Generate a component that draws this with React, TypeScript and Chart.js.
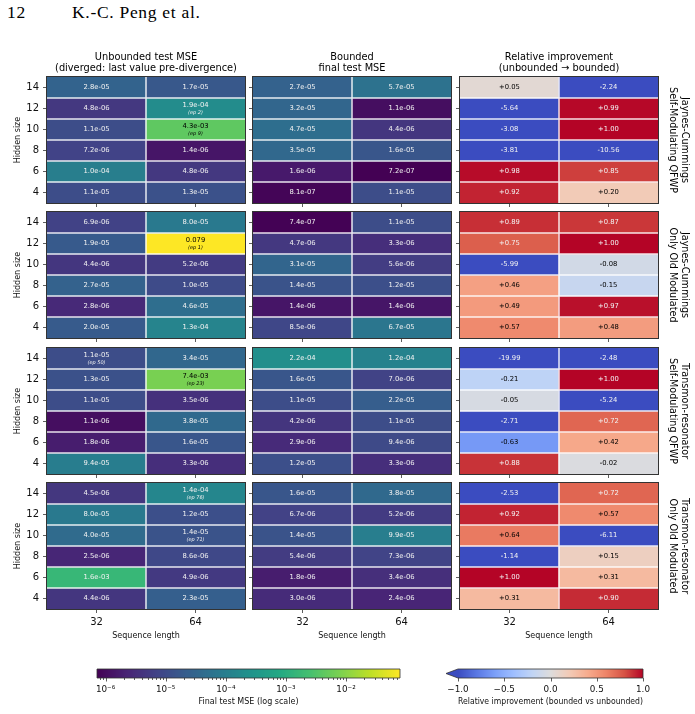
import { useEffect, useRef } from 'react';
import { Chart, registerables } from 'chart.js';
import type { ChartConfiguration, Plugin } from 'chart.js';

Chart.register(...registerables);

// ---------------------------------------------------------------------------
// Data: rows are hidden sizes 14 → 4, inner arrays are [seq 32, seq 64]
// ---------------------------------------------------------------------------
const hiddenSizes = [14, 12, 10, 8, 6, 4];
const seqLengths = ['32', '64'];

const columnTitles = [
  ['Unbounded test MSE', '(diverged: last value pre-divergence)'],
  ['Bounded', 'final test MSE'],
  ['Relative improvement', '(unbounded \u2192 bounded)'],
];

// Jaynes-Cummings, self-modulating QFWP
const jcSelfUnbounded = [
  [2.8e-5, 4.8e-6, 1.1e-5, 7.2e-6, 1.0e-4, 1.1e-5],
  [1.7e-5, 1.9e-4, 4.3e-3, 1.4e-6, 4.8e-6, 1.3e-5],
];
const jcSelfBounded = [
  [2.7e-5, 3.2e-5, 4.7e-5, 3.5e-5, 1.6e-6, 8.1e-7],
  [5.7e-5, 1.1e-6, 4.4e-6, 1.6e-5, 7.2e-7, 1.1e-5],
];
const jcSelfRelative = [
  [0.05, -5.64, -3.08, -3.81, 0.98, 0.92],
  [-2.24, 0.99, 1.0, -10.56, 0.85, 0.2],
];
const jcSelfDivergedEpoch = [
  [null, null, null, null, null, null],
  [null, 2, 9, null, null, null],
];

// Jaynes-Cummings, only old modulated
const jcOldUnbounded = [
  [6.9e-6, 1.9e-5, 4.4e-6, 2.7e-5, 2.8e-6, 2.0e-5],
  [8.0e-5, 0.079, 5.2e-6, 1.0e-5, 4.6e-5, 1.3e-4],
];
const jcOldBounded = [
  [7.4e-7, 4.7e-6, 3.1e-5, 1.4e-5, 1.4e-6, 8.5e-6],
  [1.1e-5, 3.3e-6, 5.6e-6, 1.2e-5, 1.4e-6, 6.7e-5],
];
const jcOldRelative = [
  [0.89, 0.75, -5.99, 0.46, 0.49, 0.57],
  [0.87, 1.0, -0.08, -0.15, 0.97, 0.48],
];
const jcOldDivergedEpoch = [
  [null, null, null, null, null, null],
  [null, 1, null, null, null, null],
];

// Transmon-resonator, self-modulating QFWP
const trSelfUnbounded = [
  [1.1e-5, 1.3e-5, 1.1e-5, 1.1e-6, 1.8e-6, 9.4e-5],
  [3.4e-5, 7.4e-3, 3.5e-6, 3.8e-5, 1.6e-5, 3.3e-6],
];
const trSelfBounded = [
  [2.2e-4, 1.6e-5, 1.1e-5, 4.2e-6, 2.9e-6, 1.2e-5],
  [1.2e-4, 7.0e-6, 2.2e-5, 1.1e-5, 9.4e-6, 3.3e-6],
];
const trSelfRelative = [
  [-19.99, -0.21, -0.05, -2.71, -0.63, 0.88],
  [-2.48, 1.0, -5.24, 0.72, 0.42, -0.02],
];
const trSelfDivergedEpoch = [
  [50, null, null, null, null, null],
  [null, 23, null, null, null, null],
];

// Transmon-resonator, only old modulated
const trOldUnbounded = [
  [4.5e-6, 8.0e-5, 4.0e-5, 2.5e-6, 1.6e-3, 4.4e-6],
  [1.4e-4, 1.2e-5, 1.4e-5, 8.6e-6, 4.9e-6, 2.3e-5],
];
const trOldBounded = [
  [1.6e-5, 6.7e-6, 1.4e-5, 5.4e-6, 1.8e-6, 3.0e-6],
  [3.8e-5, 5.2e-6, 9.9e-5, 7.3e-6, 3.4e-6, 2.4e-6],
];
const trOldRelative = [
  [-2.53, 0.92, 0.64, -1.14, 1.0, 0.31],
  [0.72, 0.57, -6.11, 0.15, 0.31, 0.9],
];
const trOldDivergedEpoch = [
  [null, null, null, null, null, null],
  [76, null, 71, null, null, null],
];

const mseBarTicks = [1e-6, 1e-5, 1e-4, 1e-3, 1e-2];
const relBarTicks = [-1, -0.5, 0, 0.5, 1];

// ---------------------------------------------------------------------------
// Colour maps
// ---------------------------------------------------------------------------
const viridisStops = ['#440154', '#482475', '#414487', '#355f8d', '#2a788e', '#21918c', '#22a884', '#44bf70', '#7ad151', '#bddf26', '#fde725'];
const coolwarmStops = ['#3b4cc0', '#5977e3', '#7b9ff9', '#9ebeff', '#c0d4f5', '#dddcdc', '#f2cbb7', '#f7ac8e', '#ee8468', '#d65244', '#b40426'];

function hexRgb(h: string): number[] {
  return [1, 3, 5].map((i) => parseInt(h.slice(i, i + 2), 16));
}
function sampleMap(stops: string[], t: number): string {
  const tt = Math.min(1, Math.max(0, t));
  const p = tt * (stops.length - 1);
  const i = Math.min(Math.floor(p), stops.length - 2);
  const f = p - i;
  const a = hexRgb(stops[i]);
  const b = hexRgb(stops[i + 1]);
  const c = a.map((v, k) => Math.round(v + (b[k] - v) * f));
  return `rgb(${c[0]},${c[1]},${c[2]})`;
}

const allMse = [jcSelfUnbounded, jcSelfBounded, jcOldUnbounded, jcOldBounded, trSelfUnbounded, trSelfBounded, trOldUnbounded, trOldBounded].flat(2);
const mseMin = Math.min(...allMse);
const mseMax = Math.max(...allMse);
const mseT = (v: number) => (Math.log10(v) - Math.log10(mseMin)) / (Math.log10(mseMax) - Math.log10(mseMin));
const relT = (v: number) => (v + 1) / 2;
const mseColor = (v: number) => sampleMap(viridisStops, mseT(v));
const relColor = (v: number) => sampleMap(coolwarmStops, relT(v));

function fmtMse(v: number): string {
  if (v >= 0.01) return v.toFixed(3);
  const [m, e] = v.toExponential(1).split('e');
  const sign = e[0] === '-' ? '-' : '+';
  return `${m}e${sign}${e.replace(/[+-]/, '').padStart(2, '0')}`;
}
function fmtRel(v: number): string {
  return (v >= 0 ? '+' : '') + v.toFixed(2);
}
const SUP: Record<string, string> = { '-': '\u207b', '0': '\u2070', '1': '\u00b9', '2': '\u00b2', '3': '\u00b3', '4': '\u2074', '5': '\u2075', '6': '\u2076', '7': '\u2077', '8': '\u2078', '9': '\u2079' };
const powLabel = (v: number) => '10' + String(Math.round(Math.log10(v))).split('').map((ch) => SUP[ch]).join('');
const minusLabel = (v: number) => v.toFixed(1).replace('-', '\u2212');

// ---------------------------------------------------------------------------
// Layout
// ---------------------------------------------------------------------------
const FONT = '"DejaVu Sans", sans-serif';
const INK = '#111111';
const SPINE = '#333333';
const colLeft = [47, 253, 460];
const rowTop = [77, 212, 348, 483];
const PANEL_W = 198;
const PANEL_H = 126;
const GUTTER_L = 47;
const GUTTER_T = 42;
const GUTTER_B = 36;

const setups = [
  { label: ['Jaynes-Cummings', 'Self-Modulating QFWP'], unb: jcSelfUnbounded, bnd: jcSelfBounded, rel: jcSelfRelative, ep: jcSelfDivergedEpoch },
  { label: ['Jaynes-Cummings', 'Only Old Modulated'], unb: jcOldUnbounded, bnd: jcOldBounded, rel: jcOldRelative, ep: jcOldDivergedEpoch },
  { label: ['Transmon-resonator', 'Self-Modulating QFWP'], unb: trSelfUnbounded, bnd: trSelfBounded, rel: trSelfRelative, ep: trSelfDivergedEpoch },
  { label: ['Transmon-resonator', 'Only Old Modulated'], unb: trOldUnbounded, bnd: trOldBounded, rel: trOldRelative, ep: trOldDivergedEpoch },
];

interface PanelSpec {
  key: string;
  left: number;
  top: number;
  width: number;
  height: number;
  padRight: number;
  values: number[][];
  epochs: (number | null)[][] | null;
  kind: 'mse' | 'rel';
  title: string[] | null;
  rowLabel: string[] | null;
  showY: boolean;
  showX: boolean;
}

const panels: PanelSpec[] = setups.flatMap((s, r) =>
  [s.unb, s.bnd, s.rel].map((values, c) => {
    const padRight = c === 2 ? 37 : 4;
    return {
      key: `p${r}${c}`,
      left: colLeft[c] - GUTTER_L,
      top: rowTop[r] - GUTTER_T,
      width: GUTTER_L + PANEL_W + padRight,
      height: GUTTER_T + PANEL_H + GUTTER_B,
      padRight,
      values,
      epochs: c === 0 ? s.ep : null,
      kind: c === 2 ? 'rel' : 'mse',
      title: r === 0 ? columnTitles[c] : null,
      rowLabel: c === 2 ? s.label : null,
      showY: c === 0,
      showX: r === setups.length - 1,
    } as PanelSpec;
  })
);

// ---------------------------------------------------------------------------
// Heatmap panel
// ---------------------------------------------------------------------------
function panelDecor(spec: PanelSpec): Plugin<'bar'> {
  return {
    id: 'panelDecor',
    afterDatasetsDraw(chart) {
      const { ctx, chartArea: a } = chart;
      const sx = chart.scales.x;
      const sy = chart.scales.y;
      ctx.save();

      // cell separators
      ctx.strokeStyle = 'rgba(255,255,255,0.88)';
      ctx.lineWidth = 1.5;
      ctx.beginPath();
      hiddenSizes.slice(0, -1).forEach((h) => {
        const py = sy.getPixelForValue(h - 1);
        ctx.moveTo(a.left, py);
        ctx.lineTo(a.right, py);
      });
      const mid = (sx.getPixelForValue(0) + sx.getPixelForValue(1)) / 2;
      ctx.moveTo(mid, a.top);
      ctx.lineTo(mid, a.bottom);
      ctx.stroke();

      // cell annotations
      ctx.textAlign = 'center';
      ctx.textBaseline = 'middle';
      hiddenSizes.forEach((_, r) => {
        const meta = chart.getDatasetMeta(r);
        seqLengths.forEach((__, c) => {
          const el = meta.data[c] as any;
          const { x, y, base } = el.getProps(['x', 'y', 'base'], true);
          const cy = (y + base) / 2;
          const v = spec.values[c][r];
          let label: string;
          let dark: boolean;
          if (spec.kind === 'mse') {
            label = fmtMse(v);
            dark = mseT(v) > 0.7;
          } else {
            label = fmtRel(v);
            dark = Math.abs(v) <= 0.7;
          }
          ctx.fillStyle = dark ? '#000000' : '#f2f2f2';
          ctx.font = `6.8px ${FONT}`;
          const ep = spec.epochs ? spec.epochs[c][r] : null;
          if (ep != null) {
            ctx.fillText(label, x, cy - 3);
            ctx.font = `italic 5px ${FONT}`;
            ctx.fillText(`(ep ${ep})`, x, cy + 4.5);
          } else {
            ctx.fillText(label, x, cy);
          }
        });
      });

      // frame
      ctx.strokeStyle = SPINE;
      ctx.lineWidth = 1;
      ctx.strokeRect(a.left - 0.5, a.top - 0.5, a.right - a.left + 1, a.bottom - a.top + 1);

      // column title
      ctx.fillStyle = '#000000';
      if (spec.title) {
        ctx.font = `9.8px ${FONT}`;
        const cx = (a.left + a.right) / 2;
        ctx.fillText(spec.title[0], cx, a.top - 20);
        ctx.fillText(spec.title[1], cx, a.top - 8.5);
      }

      // setup label on the right, reading downward
      if (spec.rowLabel) {
        ctx.font = `9.6px ${FONT}`;
        const cy = (a.top + a.bottom) / 2;
        spec.rowLabel.forEach((line, i) => {
          ctx.save();
          ctx.translate(a.right + 26 - i * 12, cy);
          ctx.rotate(Math.PI / 2);
          ctx.fillText(line, 0, 0);
          ctx.restore();
        });
      }
      ctx.restore();
    },
  };
}

function buildPanel(spec: PanelSpec): ChartConfiguration<'bar'> {
  const color = spec.kind === 'mse' ? mseColor : relColor;
  const tickGrid = {
    display: true,
    drawOnChartArea: false,
    drawTicks: true,
    tickLength: 4,
    tickWidth: 0.8,
    color: SPINE,
    offset: false,
  };
  return {
    type: 'bar',
    data: {
      labels: seqLengths,
      datasets: hiddenSizes.map((h, r) => ({
        label: `hidden ${h}`,
        data: seqLengths.map(() => [h - 1, h + 1] as any),
        backgroundColor: seqLengths.map((_, c) => color(spec.values[c][r])),
        borderWidth: 0,
        barPercentage: 1,
        categoryPercentage: 1,
        grouped: false,
      })),
    },
    options: {
      responsive: false,
      animation: false,
      devicePixelRatio: 1,
      events: [],
      layout: { padding: { top: GUTTER_T, right: spec.padRight, left: 0, bottom: 0 } },
      plugins: { legend: { display: false }, tooltip: { enabled: false }, title: { display: false } },
      scales: {
        x: {
          type: 'category',
          offset: true,
          grid: tickGrid,
          border: { display: false },
          ticks: { display: spec.showX, font: { family: FONT, size: 10 }, color: INK, padding: 3, maxRotation: 0, autoSkip: false },
          title: { display: spec.showX, text: 'Sequence length', font: { family: FONT, size: 8 }, color: INK, padding: { top: 0, bottom: 4.5 } },
          afterFit: (s: any) => {
            s.height = GUTTER_B;
          },
        },
        y: {
          type: 'linear',
          min: hiddenSizes[hiddenSizes.length - 1] - 1,
          max: hiddenSizes[0] + 1,
          beginAtZero: false,
          afterBuildTicks: (s: any) => {
            s.ticks = hiddenSizes.map((v) => ({ value: v }));
          },
          grid: tickGrid,
          border: { display: false },
          ticks: { display: spec.showY, font: { family: FONT, size: 10 }, color: INK, padding: 4 },
          title: { display: spec.showY, text: 'Hidden size', font: { family: FONT, size: 8 }, color: INK, padding: { top: 13, bottom: 0 } },
          afterFit: (s: any) => {
            s.width = GUTTER_L;
          },
        },
      },
    } as any,
    plugins: [panelDecor(spec)],
  };
}

// ---------------------------------------------------------------------------
// Colour bars
// ---------------------------------------------------------------------------
const CB_TOP_PAD = 19;
const CB_THICK = 9;
const CB_HEIGHT = 64;

function colorbarPlugin(kind: 'mse' | 'rel'): Plugin<'scatter'> {
  return {
    id: 'colorbarFill',
    beforeDatasetsDraw(chart) {
      const { ctx, chartArea: a } = chart;
      const sx = chart.scales.x;
      ctx.save();
      for (let px = Math.floor(a.left); px < Math.ceil(a.right); px++) {
        const v = sx.getValueForPixel(px + 0.5) as number;
        ctx.fillStyle = kind === 'mse' ? mseColor(v) : relColor(v);
        ctx.fillRect(px, a.top, 1, a.bottom - a.top);
      }
      const midY = (a.top + a.bottom) / 2;
      ctx.beginPath();
      if (kind === 'rel') {
        // extension arrow for values below the range
        ctx.fillStyle = relColor(-Infinity);
        ctx.moveTo(a.left, a.top);
        ctx.lineTo(a.left - 12, midY);
        ctx.lineTo(a.left, a.bottom);
        ctx.closePath();
        ctx.fill();
        ctx.beginPath();
        ctx.moveTo(a.left, a.top);
        ctx.lineTo(a.right, a.top);
        ctx.lineTo(a.right, a.bottom);
        ctx.lineTo(a.left, a.bottom);
        ctx.lineTo(a.left - 12, midY);
        ctx.closePath();
      } else {
        ctx.rect(a.left, a.top, a.right - a.left, a.bottom - a.top);
      }
      ctx.strokeStyle = SPINE;
      ctx.lineWidth = 0.8;
      ctx.stroke();

      // tick marks
      ctx.beginPath();
      const major = kind === 'mse' ? mseBarTicks : relBarTicks;
      major.forEach((v) => {
        const px = Math.round(sx.getPixelForValue(v)) + 0.5;
        ctx.moveTo(px, a.bottom);
        ctx.lineTo(px, a.bottom + 3.5);
      });
      if (kind === 'mse') {
        for (let d = -7; d <= -1; d++) {
          for (let m = 2; m <= 9; m++) {
            const v = m * Math.pow(10, d);
            if (v < mseMin || v > mseMax) continue;
            const px = Math.round(sx.getPixelForValue(v)) + 0.5;
            ctx.moveTo(px, a.bottom);
            ctx.lineTo(px, a.bottom + 2);
          }
        }
      }
      ctx.lineWidth = 0.8;
      ctx.stroke();
      ctx.restore();
    },
  };
}

function buildColorbar(kind: 'mse' | 'rel', padLeft: number, padRight: number): ChartConfiguration<'scatter'> {
  const isMse = kind === 'mse';
  return {
    type: 'scatter',
    data: { datasets: [] },
    options: {
      responsive: false,
      animation: false,
      devicePixelRatio: 1,
      events: [],
      layout: { padding: { top: CB_TOP_PAD, left: padLeft, right: padRight, bottom: 0 } },
      plugins: { legend: { display: false }, tooltip: { enabled: false } },
      scales: {
        x: {
          type: isMse ? 'logarithmic' : 'linear',
          position: 'bottom',
          min: isMse ? mseMin : relBarTicks[0],
          max: isMse ? mseMax : relBarTicks[relBarTicks.length - 1],
          afterBuildTicks: (s: any) => {
            s.ticks = (isMse ? mseBarTicks : relBarTicks).map((v) => ({ value: v }));
          },
          grid: { display: false, drawTicks: false },
          border: { display: false },
          ticks: {
            font: { family: FONT, size: 8.8 },
            color: INK,
            padding: 6,
            maxRotation: 0,
            autoSkip: false,
            callback: (v: any) => (isMse ? powLabel(Number(v)) : minusLabel(Number(v))),
          },
          title: {
            display: true,
            text: isMse ? 'Final test MSE (log scale)' : 'Relative improvement (bounded vs unbounded)',
            font: { family: FONT, size: 8 },
            color: INK,
            padding: { top: 0, bottom: 7.5 },
          },
          afterFit: (s: any) => {
            s.height = CB_HEIGHT - CB_TOP_PAD - CB_THICK;
          },
        },
        y: { display: false, min: 0, max: 1 },
      },
    } as any,
    plugins: [colorbarPlugin(kind)],
  };
}

// ---------------------------------------------------------------------------
// Components
// ---------------------------------------------------------------------------
interface CanvasProps {
  build: () => ChartConfiguration<any>;
  left: number;
  top: number;
  width: number;
  height: number;
}

function ChartCanvas({ build, left, top, width, height }: CanvasProps) {
  const ref = useRef<HTMLCanvasElement>(null);
  useEffect(() => {
    const chart = new Chart(ref.current as HTMLCanvasElement, build());
    return () => chart.destroy();
  }, []);
  return (
    <canvas
      ref={ref}
      width={width}
      height={height}
      style={{ position: 'absolute', left, top, width, height }}
    />
  );
}

export default function App() {
  const headerStyle = {
    position: 'absolute' as const,
    top: 4,
    font: '17.5px "Liberation Serif", "DejaVu Serif", serif',
    lineHeight: '17.5px',
    letterSpacing: '0.7px',
    color: '#000',
    whiteSpace: 'nowrap' as const,
  };
  return (
    <div style={{ position: 'absolute', left: 0, top: 0, width: 695, height: 714, background: '#ffffff', overflow: 'hidden' }}>
      <div style={{ ...headerStyle, left: 7 }}>12</div>
      <div style={{ ...headerStyle, left: 72 }}>K.-C. Peng et al.</div>
      {panels.map((p) => (
        <ChartCanvas key={p.key} build={() => buildPanel(p)} left={p.left} top={p.top} width={p.width} height={p.height} />
      ))}
      <ChartCanvas build={() => buildColorbar('mse', 37, 37)} left={60} top={650} width={377} height={CB_HEIGHT} />
      <ChartCanvas build={() => buildColorbar('rel', 20, 40)} left={438} top={650} width={245} height={CB_HEIGHT} />
    </div>
  );
}
